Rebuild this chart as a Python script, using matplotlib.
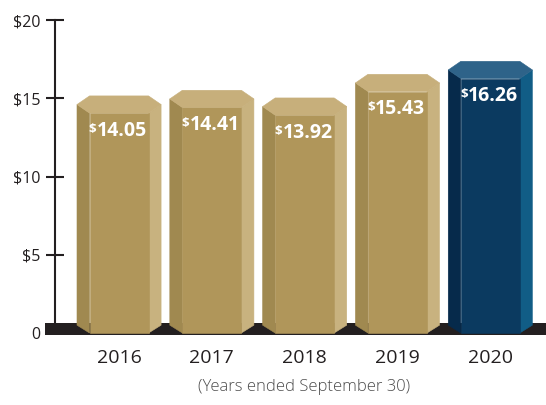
import matplotlib
matplotlib.use("Agg")
import matplotlib.pyplot as plt
from matplotlib.patches import Polygon, Rectangle

plt.rcParams["font.family"] = ["Open Sans", "DejaVu Sans"]

years = ["2016", "2017", "2018", "2019", "2020"]
values = [14.05, 14.41, 13.92, 15.43, 16.26]
value_labels = ["14.05", "14.41", "13.92", "15.43", "16.26"]
yticks = [0, 5, 10, 15, 20]
ytick_labels = ["0", "$5", "$10", "$15", "$20"]

gold = {"front": "#b0965a", "left": "#a08950", "right": "#c8b27f", "top": "#c7af7b"}
navy = {"front": "#0b3a60", "left": "#062a4b", "right": "#115d86", "top": "#2e6389"}
bar_faces = [gold, gold, gold, gold, navy]
ink = "#231f20"

fig = plt.figure(figsize=(5.46, 4.05), dpi=100)
ax = fig.add_axes([55 / 546, 70 / 405, 491 / 546, 325 / 405])
ax.set_xlim(-0.69, 4.60)
ax.set_ylim(-0.128, 20.64)


def draw_bar(ax, x, v, faces):
    # beveled prism: front face, two side faces, hexagonal cap
    ho, hf = 0.453, 0.318
    cap_back, cap_mid, side_base = v + 1.1, v + 0.55, 0.5
    kw = dict(linewidth=0.4, zorder=3)
    ax.add_patch(Polygon([(x - ho, cap_mid), (x - hf, v), (x - hf, 0), (x - ho, side_base)],
                         facecolor=faces["left"], edgecolor=faces["left"], **kw))
    ax.add_patch(Polygon([(x + ho, cap_mid), (x + hf, v), (x + hf, 0), (x + ho, side_base)],
                         facecolor=faces["right"], edgecolor=faces["right"], **kw))
    ax.add_patch(Rectangle((x - hf, 0), 2 * hf, v,
                           facecolor=faces["front"], edgecolor=faces["front"], **kw))
    ax.add_patch(Polygon([(x - ho, cap_mid), (x - hf, cap_back), (x + hf, cap_back),
                          (x + ho, cap_mid), (x + hf, v), (x - hf, v)],
                         facecolor=faces["top"], edgecolor=faces["top"], **kw))


# black base strip
ax.add_patch(Rectangle((-0.80, -0.128), 6.0, 0.768, facecolor=ink, edgecolor="none",
                       clip_on=False, zorder=2))

for i, (v, lab, faces) in enumerate(zip(values, value_labels, bar_faces)):
    draw_bar(ax, i, v, faces)
    t = ax.text(i + 0.03, v - 1.45, lab, ha="center", va="baseline", color="white",
                fontsize=14, fontweight="bold", zorder=4)
    ax.annotate("$", xy=(0, 1), xycoords=t, xytext=(-0.3, -1.5), textcoords="offset points",
                ha="right", va="top", color="white", fontsize=9.5, fontweight="bold", zorder=4)

for side in ["top", "right", "bottom"]:
    ax.spines[side].set_visible(False)
ax.spines["left"].set_bounds(0.64, 20)
ax.spines["left"].set_linewidth(1.5)
ax.spines["left"].set_color(ink)
ax.spines["left"].set_zorder(1)

ax.set_yticks(yticks)
ax.set_yticklabels(ytick_labels)
ax.tick_params(axis="y", direction="inout", length=13, width=1.5, color=ink,
               pad=4, labelsize=11.5, labelcolor=ink)
ax.yaxis.get_major_ticks()[0].tick1line.set_visible(False)

ax.set_xticks(range(len(years)))
ax.set_xticklabels(years)
ax.tick_params(axis="x", length=0, pad=10, labelsize=14, labelcolor=ink)

fig.text(304 / 546, 1 - 387 / 405, "(Years ended September 30)", ha="center", va="center",
         fontsize=12, fontweight="light", color="#4d4d4d")

fig.savefig("out.png", dpi=100)
